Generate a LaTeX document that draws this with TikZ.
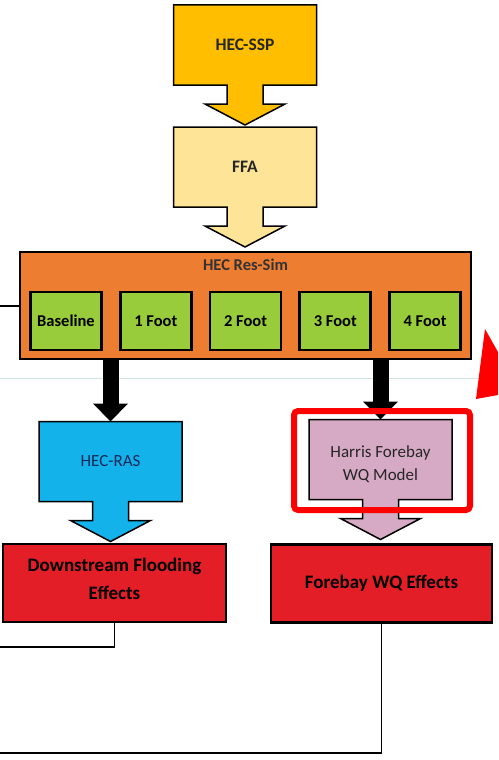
\documentclass[tikz,border=0pt]{standalone}
\usepackage{fontspec}
\setmainfont{Carlito}
\usetikzlibrary{arrows.meta, backgrounds}

\definecolor{sspyellow}{RGB}{255,190,0}
\definecolor{ffayellow}{RGB}{253,228,150}
\definecolor{resorange}{RGB}{237,125,49}
\definecolor{scengreen}{RGB}{152,204,58}
\definecolor{rasblue}{RGB}{20,178,235}
\definecolor{wqpink}{RGB}{214,170,196}
\definecolor{fxred}{RGB}{228,30,38}
\definecolor{navytext}{RGB}{24,40,90}
\definecolor{faintline}{RGB}{208,226,228}

\tikzset{
  callbox/.style={minimum width=143pt, minimum height=80pt, inner sep=2pt, outer sep=0pt, align=center,
    font=\fontsize{17.5}{23}\selectfont\bfseries},
  scenario/.style={draw, line width=2.6pt, fill=scengreen, minimum width=71pt, minimum height=58pt,
    inner sep=1pt, outer sep=0pt, font=\fontsize{16.5}{20}\selectfont\bfseries},
  effect/.style={draw, line width=2.2pt, fill=fxred, minimum height=78pt, align=center, outer sep=0pt,
    font=\fontsize{19}{28}\selectfont\bfseries},
  bigarrow/.style={line width=16pt, -{Triangle[width=34pt,length=18pt]}},
  link/.style={line width=1.4pt}
}

% box with a block arrow under it
\newcommand{\callout}[2]{%
  \begin{scope}[on background layer]
    \draw[line width=1.5pt, line join=miter, fill=#2] (#1.north west) -- (#1.north east) -- (#1.south east)
      -- ([xshift=18pt]#1.south) -- ++(0,19) -- ++(22,0) -- ++(-40,21) -- ++(-40,-21) -- ++(22,0)
      -- ++(0,-19) -- (#1.south west) -- cycle;
  \end{scope}}

\begin{document}
\begin{tikzpicture}[x=1pt,y=-1pt]
\useasboundingbox (0,0) rectangle (498,760);

\draw[faintline, line width=1pt] (0,378) -- (498,378);

% models
\node[callbox, text=black!85] (ssp) at (245,45) {HEC-SSP};
\callout{ssp}{sspyellow}
\node[callbox, text=black!85] (ffa) at (245,167) {FFA};
\callout{ffa}{ffayellow}

\node[draw, line width=2pt, fill=resorange, minimum width=451pt, minimum height=107pt, outer sep=0pt]
  (resim) at (245.5,305.5) {};
\node[font=\fontsize{16.5}{20}\selectfont\bfseries, text=black!80, below=3pt] (resimlabel) at (resim.north) {HEC Res-Sim};
\foreach \nm/\txt [count=\i from 0] in {base/Baseline, one/1 Foot, two/2 Foot, three/3 Foot, four/4 Foot}
  \node[scenario] (\nm) at (66+89.75*\i,321) {\txt};

\node[callbox, font=\fontsize{17}{23}\selectfont, text=navytext] (ras) at (110.5,461.5) {HEC-RAS};
\callout{ras}{rasblue}
\node[callbox, font=\fontsize{17}{23}\selectfont, text=black!85, text height=44pt] (wq) at (380.5,459.5) {Harris Forebay\\WQ Model};
\callout{wq}{wqpink}

\draw[bigarrow] (resim.south -| ras.north) -- (ras.north);
\draw[bigarrow] (resim.south -| wq.north) -- (wq.north);

% effects
\node[effect, minimum width=223pt, text depth=8pt] (down) at (114.5,583) {Downstream Flooding\\Effects};
\node[effect, minimum width=221pt] (wqfx) at (381.5,583.5) {Forebay WQ Effects};

% links out of the frame
\coordinate (inleft) at (0,306);
\coordinate (outleft1) at (0,647);
\coordinate (outleft2) at (0,753);
\draw[link] (inleft) -- (inleft -| resim.west);
\draw[link] (down.south) |- (outleft1);
\draw[link] (wqfx.south) |- (outleft2);

% highlight
\node[draw=red, line width=6pt, rounded corners=4pt, minimum width=176pt, minimum height=99pt] (focus) at (382,460.5) {};
\fill[red] (485,329) -- (498,352) -- (498,395) -- (476,399) -- cycle;
\end{tikzpicture}
\end{document}
